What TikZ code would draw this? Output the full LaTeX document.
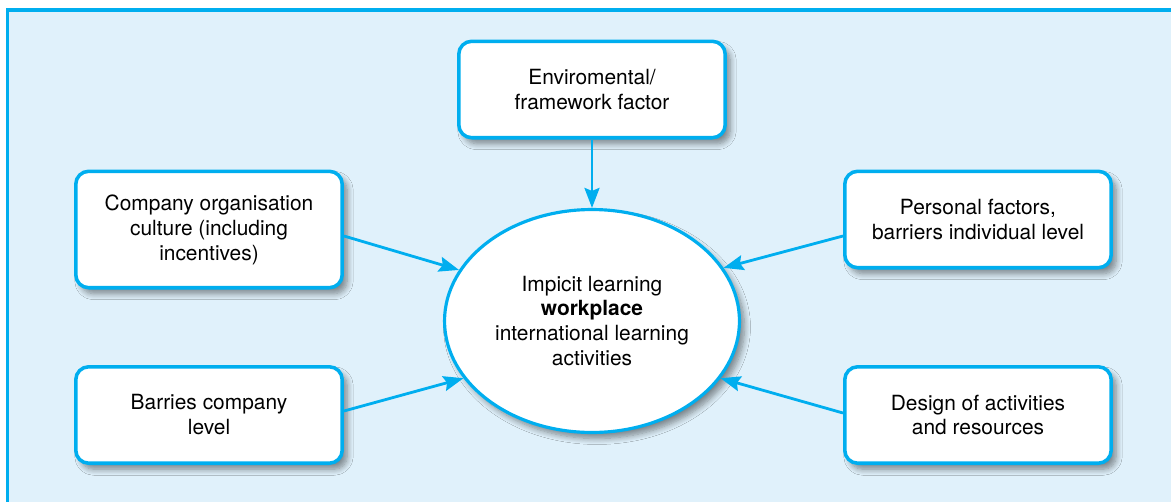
\documentclass[tikz,border=0pt]{standalone}
\usepackage{fontspec}
\setmainfont{TeX Gyre Heros}
\usetikzlibrary{arrows.meta, shapes.geometric, shadows.blur}

\definecolor{frameblue}{RGB}{0,174,239}
\definecolor{paleblue}{RGB}{224,241,251}

\begin{document}
\begin{tikzpicture}[
            x=0.02cm, y=-0.02cm,
            softshadow/.style={
                blur shadow={shadow xshift=0.1cm, shadow yshift=-0.12cm,
                    shadow blur radius=0.12cm, shadow blur steps=8, shadow opacity=45}
            },
            factor/.style={
                draw=frameblue, line width=2pt, fill=white,
                rounded corners=0.26cm,
                minimum width=5.33cm, minimum height=1.93cm,
                align=center, font=\fontsize{11.9}{14.2}\selectfont,
                softshadow
            },
            hubshape/.style={
                ellipse, draw=frameblue, line width=1.8pt, fill=white,
                minimum width=5.9cm, minimum height=4.46cm,
                align=center, font=\fontsize{11.9}{14.2}\selectfont,
                softshadow
            },
            influence/.style={
                draw=frameblue, line width=1.6pt,
                -{Stealth[length=0.4cm, width=0.3cm, inset=0.06cm]}
            }
        ]
        \clip (0,0) rectangle (1171,501);
        \draw[frameblue, fill=paleblue, line width=1.8pt] (7.5,10) rectangle (1200,530);

        % the five factors
        \node[factor] (env) at (592,89.5) {Enviromental/\\framework factor};
        \node[factor, minimum height=2.33cm] (culture) at (209,229.5) {Company organisation\\culture (including\\incentives)};
        \node[factor] (barriers) at (209,415) {Barries company\\level};
        \node[factor] (personal) at (978,219.5) {Personal factors,\\barriers individual level};
        \node[factor] (design) at (978,415) {Design of activities\\and resources};

        % centre
        \node[hubshape] (hub) at (592,321)
            {Impicit learning\\\textbf{workplace}\\international learning\\activities};

        \draw[influence] (env.south) -- (hub.north);
        \draw[influence] ([yshift=-0.13cm]culture.east) -- (hub.159);
        \draw[influence] ([yshift=0.08cm]barriers.east) -- (hub.204);
        \draw[influence] ([yshift=-0.33cm]personal.west) -- (hub.22);
        \draw[influence] ([yshift=0.04cm]design.west) -- (hub.336);
    \end{tikzpicture}
\end{document}
